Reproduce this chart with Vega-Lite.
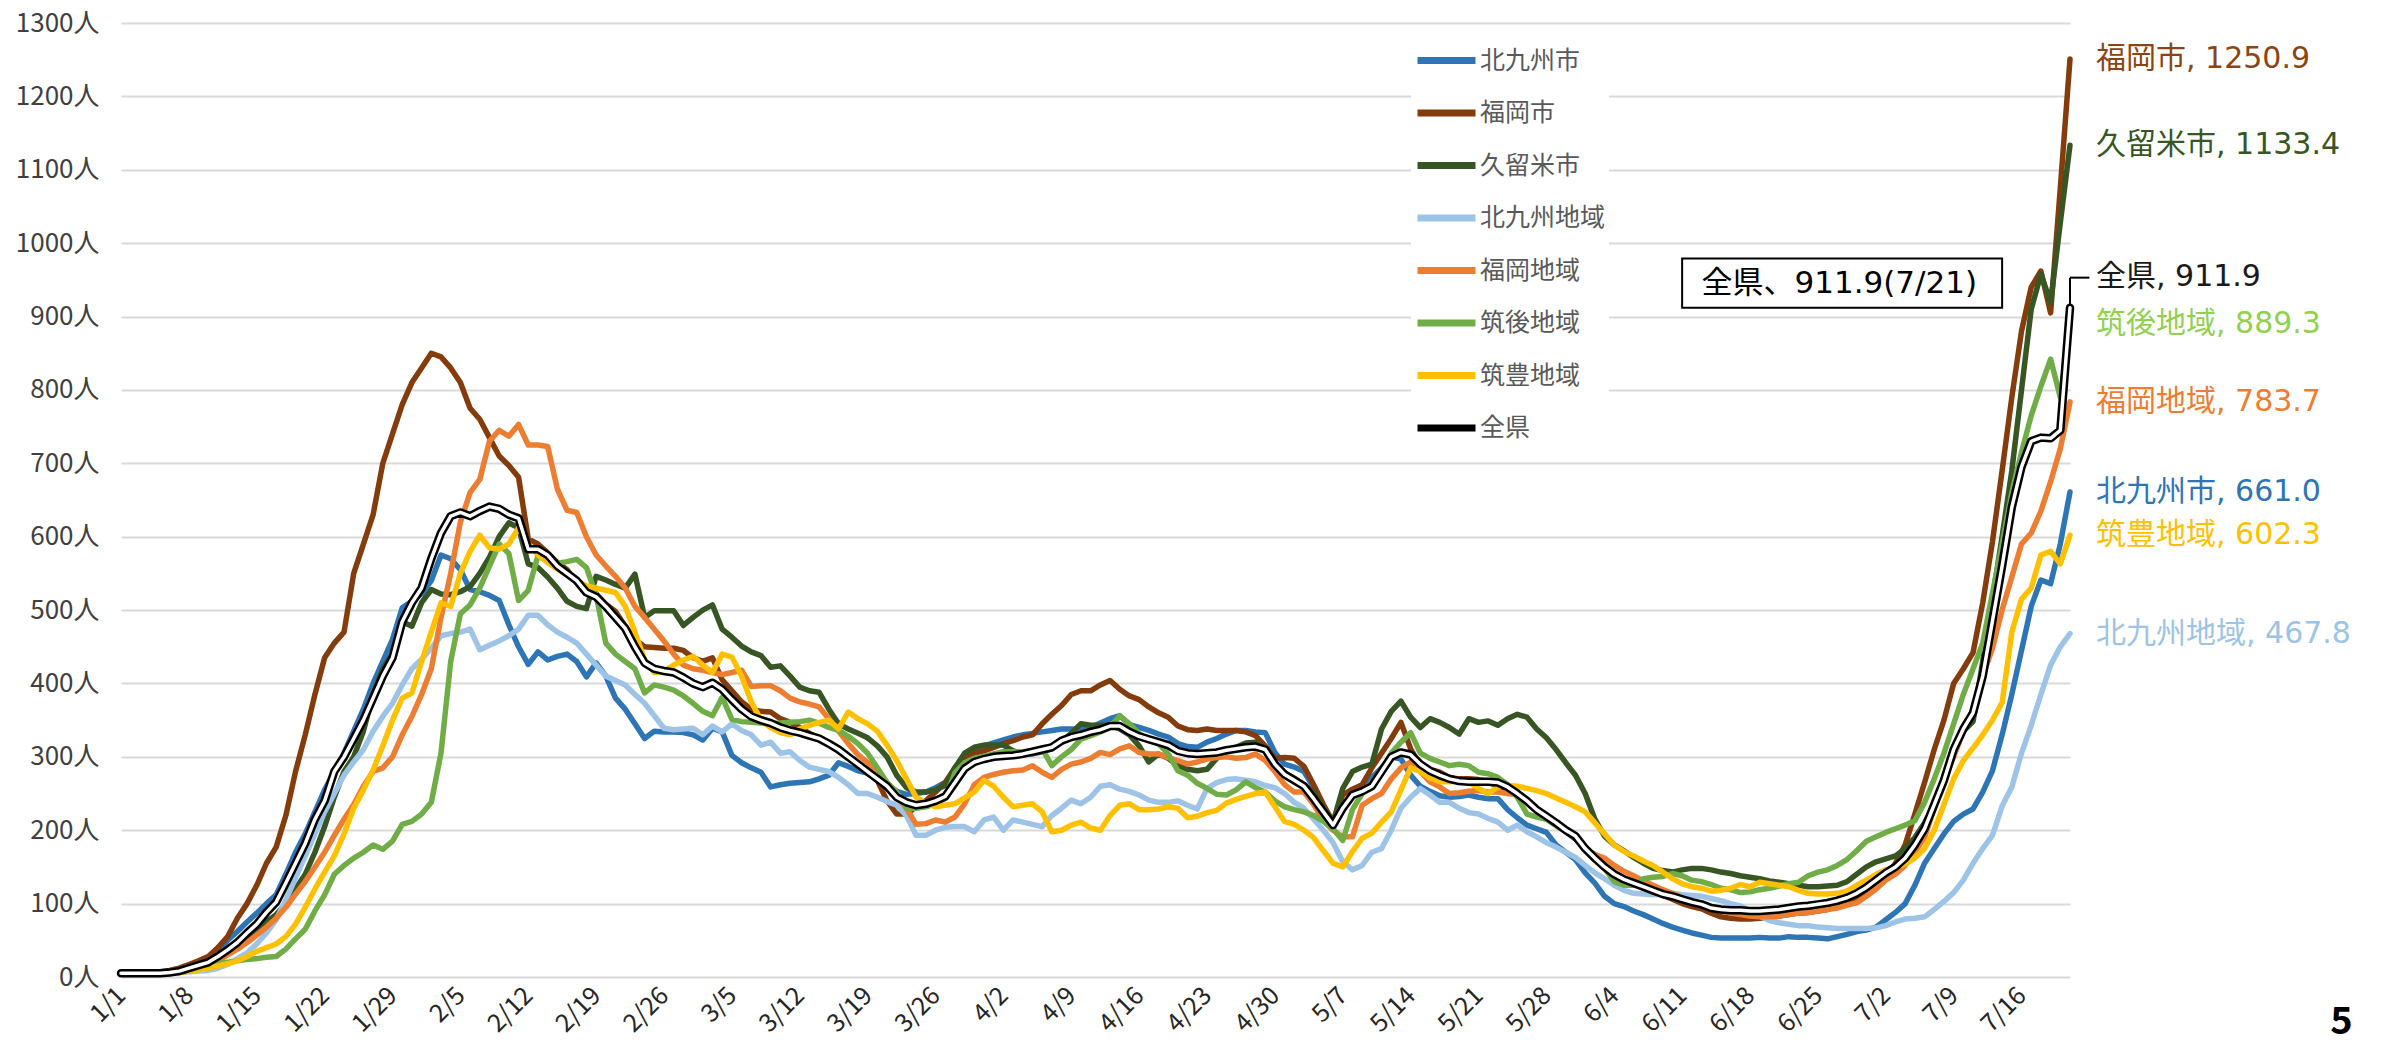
{
"$schema":"https://vega.github.io/schema/vega-lite/v6.json",
"width":1949,"height":954,
"autosize":{"type":"none"},
"padding":{"left":121,"top":23,"right":320,"bottom":68},
"background":"#FFFFFF",
"config":{"view":{"stroke":null},"font":"Noto Sans CJK JP"},
"datasets":{
"daily":[
{"date":"2022-01-01","北九州市":5,"福岡市":5,"久留米市":5,"北九州地域":4,"福岡地域":5,"筑後地域":4,"筑豊地域":4,"全県":5},
{"date":"2022-01-02","北九州市":5,"福岡市":5,"久留米市":5,"北九州地域":4,"福岡地域":5,"筑後地域":4,"筑豊地域":4,"全県":5},
{"date":"2022-01-03","北九州市":5,"福岡市":5,"久留米市":5,"北九州地域":4,"福岡地域":5,"筑後地域":4,"筑豊地域":4,"全県":5},
{"date":"2022-01-04","北九州市":5,"福岡市":6,"久留米市":5,"北九州地域":4,"福岡地域":5,"筑後地域":4,"筑豊地域":4,"全県":5},
{"date":"2022-01-05","北九州市":5,"福岡市":7,"久留米市":5,"北九州地域":4,"福岡地域":5,"筑後地域":4,"筑豊地域":4,"全県":5},
{"date":"2022-01-06","北九州市":6,"福岡市":9,"久留米市":6,"北九州地域":5,"福岡地域":6,"筑後地域":5,"筑豊地域":5,"全県":6},
{"date":"2022-01-07","北九州市":8,"福岡市":12,"久留米市":8,"北九州地域":6,"福岡地域":8,"筑後地域":6,"筑豊地域":6,"全県":8},
{"date":"2022-01-08","北九州市":12,"福岡市":17,"久留米市":12,"北九州地域":7,"福岡地域":10,"筑後地域":8,"筑豊地域":8,"全県":12},
{"date":"2022-01-09","北九州市":17,"福岡市":22,"久留米市":16,"北九州地域":8,"福岡地域":13,"筑後地域":11,"筑豊地域":10,"全県":16},
{"date":"2022-01-10","北九州市":22,"福岡市":28,"久留米市":20,"北九州地域":9,"福岡地域":16,"筑後地域":16,"筑豊地域":12,"全県":20},
{"date":"2022-01-11","北九州市":35,"福岡市":40,"久留米市":28,"北九州地域":12,"福岡地域":22,"筑後地域":18,"筑豊地域":15,"全県":28},
{"date":"2022-01-12","北九州市":50,"福岡市":55,"久留米市":35,"北九州地域":17,"福岡地域":30,"筑後地域":20,"筑豊地域":18,"全県":37},
{"date":"2022-01-13","北九州市":62,"福岡市":80,"久留米市":45,"北九州地域":25,"福岡地域":38,"筑後地域":22,"筑豊地域":22,"全県":47},
{"date":"2022-01-14","北九州市":75,"福岡市":100,"久留米市":55,"北九州地域":33,"福岡地域":47,"筑後地域":24,"筑豊地域":28,"全県":60},
{"date":"2022-01-15","北九州市":87,"福岡市":125,"久留米市":65,"北九州地域":45,"福岡地域":57,"筑後地域":25,"筑豊地域":35,"全県":72},
{"date":"2022-01-16","北九州市":100,"福岡市":155,"久留米市":75,"北九州地域":60,"福岡地域":68,"筑後地域":27,"筑豊地域":40,"全県":88},
{"date":"2022-01-17","北九州市":112,"福岡市":177,"久留米市":85,"北九州地域":78,"福岡地域":80,"筑後地域":28,"筑豊地域":45,"全県":102},
{"date":"2022-01-18","北九州市":140,"福岡市":220,"久留米市":100,"北九州地域":105,"福岡地域":95,"筑後地域":38,"筑豊地域":55,"全県":128},
{"date":"2022-01-19","北九州市":170,"福岡市":280,"久留米市":120,"北九州地域":135,"福岡地域":113,"筑後地域":52,"筑豊地域":72,"全県":155},
{"date":"2022-01-20","北九州市":195,"福岡市":330,"久留米市":140,"北九州地域":165,"福岡地域":130,"筑後地域":65,"筑豊地域":95,"全県":182},
{"date":"2022-01-21","北九州市":225,"福岡市":385,"久留米市":170,"北九州地域":195,"福岡地域":150,"筑後地域":90,"筑豊地域":120,"全県":215},
{"date":"2022-01-22","北九州市":255,"福岡市":435,"久留米市":205,"北九州地域":225,"福岡地域":170,"筑後地域":112,"筑豊地域":143,"全県":240},
{"date":"2022-01-23","北九州市":280,"福岡市":455,"久留米市":245,"北九州地域":250,"福岡地域":193,"筑後地域":140,"筑豊地域":165,"全県":280},
{"date":"2022-01-24","北九州市":305,"福岡市":470,"久留米市":280,"北九州地域":275,"福岡地域":215,"筑後地域":152,"筑豊地域":195,"全県":300},
{"date":"2022-01-25","北九州市":335,"福岡市":550,"久留米市":300,"北九州地域":293,"福岡地域":235,"筑後地域":162,"筑豊地域":230,"全県":325},
{"date":"2022-01-26","北九州市":365,"福岡市":590,"久留米市":335,"北九州地域":310,"福岡地域":260,"筑後地域":170,"筑豊地域":255,"全県":350},
{"date":"2022-01-27","北九州市":400,"福岡市":630,"久留米市":385,"北九州地域":335,"福岡地域":280,"筑後地域":180,"筑豊地域":282,"全県":380},
{"date":"2022-01-28","北九州市":430,"福岡市":700,"久留米市":420,"北九州地域":355,"福岡地域":285,"筑後地域":174,"筑豊地域":315,"全県":410},
{"date":"2022-01-29","北九州市":460,"福岡市":740,"久留米市":440,"北九州地域":373,"福岡地域":300,"筑後地域":185,"筑豊地域":350,"全県":435},
{"date":"2022-01-30","北九州市":503,"福岡市":780,"久留米市":484,"北九州地域":398,"福岡地域":330,"筑後地域":208,"筑豊地域":380,"全県":484},
{"date":"2022-01-31","北九州市":512,"福岡市":810,"久留米市":478,"北九州地域":420,"福岡地域":355,"筑後地域":212,"筑豊地域":387,"全県":510},
{"date":"2022-02-01","北九州市":522,"福岡市":830,"久留米市":510,"北九州地域":433,"福岡地域":385,"筑後地域":222,"筑豊地域":430,"全県":530},
{"date":"2022-02-02","北九州市":540,"福岡市":850,"久留米市":528,"北九州地域":448,"福岡地域":420,"筑後地域":238,"筑豊地域":470,"全県":570},
{"date":"2022-02-03","北九州市":575,"福岡市":845,"久留米市":522,"北九州地域":465,"福岡地域":490,"筑後地域":305,"筑豊地域":510,"全県":605},
{"date":"2022-02-04","北九州市":570,"福岡市":830,"久留米市":521,"北九州地域":468,"福岡地域":550,"筑後地域":430,"筑豊地域":505,"全県":628},
{"date":"2022-02-05","北九州市":555,"福岡市":810,"久留米市":525,"北九州地域":470,"福岡地域":620,"筑後地域":495,"筑豊地域":550,"全県":633},
{"date":"2022-02-06","北九州市":528,"福岡市":775,"久留米市":532,"北九州地域":474,"福岡地域":660,"筑後地域":507,"筑豊地域":580,"全県":628},
{"date":"2022-02-07","北九州市":525,"福岡市":760,"久留米市":550,"北九州地域":446,"福岡地域":678,"筑後地域":530,"筑豊地域":602,"全県":635},
{"date":"2022-02-08","北九州市":520,"福岡市":735,"久留米市":572,"北九州地域":452,"福岡地域":730,"筑後地域":560,"筑豊地域":585,"全県":641},
{"date":"2022-02-09","北九州市":513,"福岡市":710,"久留米市":600,"北九州地域":458,"福岡地域":745,"筑後地域":590,"筑豊地域":583,"全県":638},
{"date":"2022-02-10","北九州市":480,"福岡市":697,"久留米市":619,"北九州地域":465,"福岡地域":737,"筑後地域":577,"筑豊地域":590,"全県":630},
{"date":"2022-02-11","北九州市":450,"福岡市":681,"久留米市":612,"北九州地域":474,"福岡地域":753,"筑後地域":513,"筑豊地域":612,"全県":625},
{"date":"2022-02-12","北九州市":426,"福岡市":597,"久留米市":563,"北九州地域":493,"福岡地域":725,"筑後地域":527,"筑豊地域":590,"全県":583},
{"date":"2022-02-13","北九州市":443,"福岡市":590,"久留米市":558,"北九州地域":493,"福岡地域":725,"筑後地域":574,"筑豊地域":575,"全県":583},
{"date":"2022-02-14","北九州市":432,"福岡市":578,"久留米市":545,"北九州地域":480,"福岡地域":723,"筑後地域":566,"筑豊地域":565,"全県":575},
{"date":"2022-02-15","北九州市":437,"福岡市":565,"久留米市":530,"北九州地域":470,"福岡地域":665,"筑後地域":564,"筑豊地域":556,"全県":560},
{"date":"2022-02-16","北九州市":440,"福岡市":555,"久留米市":512,"北九州地域":463,"福岡地域":636,"筑後地域":566,"筑豊地域":548,"全県":550},
{"date":"2022-02-17","北九州市":430,"福岡市":538,"久留米市":505,"北九州地域":455,"福岡地域":633,"筑後地域":569,"筑豊地域":540,"全県":540},
{"date":"2022-02-18","北九州市":409,"福岡市":530,"久留米市":502,"北九州地域":440,"福岡地域":600,"筑後地域":558,"筑豊地域":533,"全県":524},
{"date":"2022-02-19","北九州市":428,"福岡市":522,"久留米市":546,"北九州地域":425,"福岡地域":575,"筑後地域":520,"筑豊地域":530,"全県":518},
{"date":"2022-02-20","北九州市":410,"福岡市":508,"久留米市":541,"北九州地域":410,"福岡地域":560,"筑後地域":455,"筑豊地域":527,"全県":505},
{"date":"2022-02-21","北九州市":380,"福岡市":498,"久留米市":535,"北九州地域":404,"福岡地域":546,"筑後地域":440,"筑豊地域":524,"全県":490},
{"date":"2022-02-22","北九州市":365,"福岡市":478,"久留米市":530,"北九州地域":398,"福岡地域":530,"筑後地域":430,"筑豊地域":505,"全県":475},
{"date":"2022-02-23","北九州市":345,"福岡市":460,"久留米市":549,"北九州地域":385,"福岡地域":505,"筑後地域":420,"筑豊地域":470,"全県":450},
{"date":"2022-02-24","北九州市":325,"福岡市":450,"久留米市":490,"北九州地域":373,"福岡地域":490,"筑後地域":387,"筑豊地域":432,"全県":428},
{"date":"2022-02-25","北九州市":335,"福岡市":449,"久留米市":499,"北九州地域":356,"福岡地域":474,"筑後地域":398,"筑豊地域":415,"全県":420},
{"date":"2022-02-26","北九州市":334,"福岡市":448,"久留米市":499,"北九州地域":339,"福岡地域":458,"筑後地域":395,"筑豊地域":417,"全県":417},
{"date":"2022-02-27","北九州市":334,"福岡市":448,"久留米市":499,"北九州地域":337,"福岡地域":440,"筑後地域":391,"筑豊地域":425,"全県":415},
{"date":"2022-02-28","北九州市":333,"福岡市":445,"久留米市":479,"北九州地域":338,"福岡地域":425,"筑後地域":383,"筑豊地域":432,"全県":408},
{"date":"2022-03-01","北九州市":330,"福岡市":435,"久留米市":490,"北九州地域":339,"福岡地域":420,"筑後地域":373,"筑豊地域":437,"全県":400},
{"date":"2022-03-02","北九州市":323,"福岡市":430,"久留米市":500,"北九州地域":330,"福岡地域":418,"筑後地域":362,"筑豊地域":425,"全県":395},
{"date":"2022-03-03","北九州市":339,"福岡市":435,"久留米市":507,"北九州地域":342,"福岡地域":415,"筑後地域":356,"筑豊地域":415,"全県":401},
{"date":"2022-03-04","北九州市":334,"福岡市":405,"久留米市":474,"北九州地域":334,"福岡地域":412,"筑後地域":381,"筑豊地域":440,"全県":392},
{"date":"2022-03-05","北九州市":302,"福岡市":390,"久留米市":463,"北九州地域":345,"福岡地域":415,"筑後地域":351,"筑豊地域":436,"全県":378},
{"date":"2022-03-06","北九州市":292,"福岡市":375,"久留米市":451,"北九州地域":336,"福岡地域":418,"筑後地域":348,"筑豊地域":410,"全県":365},
{"date":"2022-03-07","北九州市":285,"福岡市":365,"久留米市":443,"北九州地域":330,"福岡地域":396,"筑後地域":347,"筑豊地域":375,"全県":355},
{"date":"2022-03-08","北九州市":279,"福岡市":362,"久留米市":438,"北九州地域":316,"福岡地域":397,"筑後地域":346,"筑豊地域":350,"全県":350},
{"date":"2022-03-09","北九州市":259,"福岡市":361,"久留米市":422,"北九州地域":320,"福岡地域":397,"筑後地域":345,"筑豊地域":340,"全県":346},
{"date":"2022-03-10","北九州市":262,"福岡市":352,"久留米市":424,"北九州地域":305,"福岡地域":390,"筑後地域":346,"筑豊地域":333,"全県":340},
{"date":"2022-03-11","北九州市":264,"福岡市":347,"久留米市":410,"北九州地域":307,"福岡地域":380,"筑後地域":347,"筑豊地域":330,"全県":336},
{"date":"2022-03-12","北九州市":265,"福岡市":340,"久留米市":395,"北九州地域":295,"福岡地域":375,"筑後地域":348,"筑豊地域":338,"全県":333},
{"date":"2022-03-13","北九州市":266,"福岡市":332,"久留米市":390,"北九州地域":286,"福岡地域":372,"筑後地域":350,"筑豊地域":343,"全県":329},
{"date":"2022-03-14","北九州市":270,"福岡市":325,"久留米市":388,"北九州地域":283,"福岡地域":368,"筑後地域":346,"筑豊地域":347,"全県":325},
{"date":"2022-03-15","北九州市":275,"福岡市":318,"久留米市":365,"北九州地域":280,"福岡地域":352,"筑後地域":340,"筑豊地域":350,"全県":318},
{"date":"2022-03-16","北九州市":292,"福岡市":310,"久留米市":345,"北九州地域":272,"福岡地域":335,"筑後地域":336,"筑豊地域":338,"全県":310},
{"date":"2022-03-17","北九州市":287,"福岡市":300,"久留米市":338,"北九州地域":262,"福岡地域":318,"筑後地域":328,"筑豊地域":361,"全県":300},
{"date":"2022-03-18","北九州市":281,"福岡市":290,"久留米市":332,"北九州地域":250,"福岡地域":303,"筑後地域":318,"筑豊地域":352,"全県":290},
{"date":"2022-03-19","北九州市":278,"福岡市":278,"久留米市":326,"北九州地域":250,"福岡地域":292,"筑後地域":305,"筑豊地域":345,"全県":280},
{"date":"2022-03-20","北九州市":271,"福岡市":268,"久留米市":315,"北九州地域":245,"福岡地域":278,"筑後地域":285,"筑豊地域":335,"全県":270},
{"date":"2022-03-21","北九州市":262,"福岡市":240,"久留米市":300,"北九州地域":239,"福岡地域":262,"筑後地域":265,"筑豊地域":316,"全県":260},
{"date":"2022-03-22","北九州市":253,"福岡市":222,"久留米市":275,"北九州地域":234,"福岡地域":245,"筑後地域":252,"筑豊地域":295,"全県":245},
{"date":"2022-03-23","北九州市":249,"福岡市":222,"久留米市":258,"北九州地域":220,"福岡地域":230,"筑後地域":230,"筑豊地域":270,"全県":238},
{"date":"2022-03-24","北九州市":250,"福岡市":232,"久留米市":252,"北九州地域":193,"福岡地域":208,"筑後地域":230,"筑豊地域":245,"全県":234},
{"date":"2022-03-25","北九州市":252,"福岡市":240,"久留米市":252,"北九州地域":193,"福岡地域":209,"筑後地域":232,"筑豊地域":237,"全県":236},
{"date":"2022-03-26","北九州市":258,"福岡市":252,"久留米市":255,"北九州地域":200,"福岡地域":214,"筑後地域":236,"筑豊地域":232,"全県":240},
{"date":"2022-03-27","北九州市":265,"福岡市":265,"久留米市":261,"北九州地域":204,"福岡地域":211,"筑後地域":243,"筑豊地域":234,"全県":246},
{"date":"2022-03-28","北九州市":278,"福岡市":285,"久留米市":285,"北九州地域":205,"福岡地域":218,"筑後地域":278,"筑豊地域":236,"全県":265},
{"date":"2022-03-29","北九州市":290,"福岡市":300,"久留米市":305,"北九州地域":205,"福岡地域":236,"筑後地域":292,"筑豊地域":244,"全県":284},
{"date":"2022-03-30","北九州市":310,"福岡市":305,"久留米市":313,"北九州地域":198,"福岡地域":262,"筑後地域":298,"筑豊地域":252,"全県":293},
{"date":"2022-03-31","北九州市":315,"福岡市":308,"久留米市":316,"北九州地域":214,"福岡地域":272,"筑後地域":301,"筑豊地域":268,"全県":297},
{"date":"2022-04-01","北九州市":319,"福岡市":313,"久留米市":316,"北九州地域":218,"福岡地域":276,"筑後地域":304,"筑豊地域":260,"全県":300},
{"date":"2022-04-02","北九州市":323,"福岡市":318,"久留米市":316,"北九州地域":200,"福岡地域":279,"筑後地域":307,"筑豊地域":245,"全県":301},
{"date":"2022-04-03","北九州市":327,"福岡市":322,"久留米市":308,"北九州地域":214,"福岡地域":281,"筑後地域":307,"筑豊地域":232,"全県":302},
{"date":"2022-04-04","北九州市":330,"福岡市":327,"久留米市":305,"北九州地域":211,"福岡地域":282,"筑後地域":307,"筑豊地域":234,"全県":304},
{"date":"2022-04-05","北九州市":332,"福岡市":330,"久留米市":304,"北九州地域":208,"福岡地域":288,"筑後地域":308,"筑豊地域":236,"全県":307},
{"date":"2022-04-06","北九州市":334,"福岡市":345,"久留米市":307,"北九州地域":205,"福岡地域":279,"筑後地域":311,"筑豊地域":225,"全県":310},
{"date":"2022-04-07","北九州市":336,"福岡市":358,"久留米市":311,"北九州地域":220,"福岡地域":272,"筑後地域":288,"筑豊地域":198,"全県":313},
{"date":"2022-04-08","北九州市":338,"福岡市":370,"久留米市":320,"北九州地域":230,"福岡地域":283,"筑後地域":300,"筑豊地域":200,"全県":322},
{"date":"2022-04-09","北九州市":338,"福岡市":385,"久留米市":332,"北九州地域":241,"福岡地域":290,"筑後地域":310,"筑豊地域":207,"全県":327},
{"date":"2022-04-10","北九州市":338,"福岡市":390,"久留米市":345,"北九州地域":236,"福岡地域":293,"筑後地域":324,"筑豊地域":211,"全県":330},
{"date":"2022-04-11","北九州市":340,"福岡市":390,"久留米市":343,"北九州地域":245,"福岡地域":298,"筑後地域":329,"筑豊地域":203,"全県":334},
{"date":"2022-04-12","北九州市":346,"福岡市":398,"久留米市":343,"北九州地域":260,"福岡地域":306,"筑後地域":334,"筑豊地域":200,"全県":337},
{"date":"2022-04-13","北九州市":352,"福岡市":404,"久留米市":343,"北九州地域":262,"福岡地域":303,"筑後地域":340,"筑豊地域":220,"全県":342},
{"date":"2022-04-14","北九州市":356,"福岡市":392,"久留米市":338,"北九州地域":256,"福岡地域":311,"筑後地域":356,"筑豊地域":234,"全県":342},
{"date":"2022-04-15","北九州市":344,"福岡市":383,"久留米市":330,"北九州地域":253,"福岡地域":315,"筑後地域":345,"筑豊地域":236,"全県":334},
{"date":"2022-04-16","北九州市":340,"福岡市":378,"久留米市":315,"北九州地域":248,"福岡地域":306,"筑後地域":332,"筑豊地域":228,"全県":328},
{"date":"2022-04-17","北九州市":336,"福岡市":368,"久留米市":293,"北九州地域":241,"福岡地域":304,"筑後地域":322,"筑豊地域":228,"全県":324},
{"date":"2022-04-18","北九州市":331,"福岡市":360,"久留米市":304,"北九州地域":238,"福岡地域":304,"筑後地域":318,"筑豊地域":229,"全県":320},
{"date":"2022-04-19","北九州市":327,"福岡市":354,"久留米市":298,"北九州地域":238,"福岡地域":299,"筑後地域":304,"筑豊地域":232,"全県":316},
{"date":"2022-04-20","北九州市":318,"福岡市":342,"久留米市":288,"北九州地域":240,"福岡地域":295,"筑後地域":281,"筑豊地域":230,"全県":308},
{"date":"2022-04-21","北九州市":314,"福岡市":337,"久留米市":283,"北九州地域":234,"福岡地域":290,"筑後地域":275,"筑豊地域":217,"全県":305},
{"date":"2022-04-22","北九州市":313,"福岡市":336,"久留米市":281,"北九州地域":229,"福岡地域":293,"筑後地域":264,"筑豊地域":219,"全県":304},
{"date":"2022-04-23","北九州市":320,"福岡市":338,"久留米市":283,"北九州地域":257,"福岡地域":297,"筑後地域":257,"筑豊地域":224,"全県":305},
{"date":"2022-04-24","北九州市":325,"福岡市":336,"久留米市":298,"北九州地域":265,"福岡地域":299,"筑後地域":249,"筑豊地域":227,"全県":306},
{"date":"2022-04-25","北九州市":331,"福岡市":336,"久留米市":307,"北九州地域":269,"福岡地域":300,"筑後地域":248,"筑豊地域":237,"全県":309},
{"date":"2022-04-26","北九州市":336,"福岡市":336,"久留米市":313,"北九州地域":270,"福岡地域":298,"筑後地域":255,"筑豊地域":242,"全県":311},
{"date":"2022-04-27","北九州市":336,"福岡市":334,"久留米市":319,"北九州地域":268,"福岡地域":299,"筑後地域":266,"筑豊地域":246,"全県":313},
{"date":"2022-04-28","北九州市":334,"福岡市":329,"久留米市":320,"北九州地域":266,"福岡地域":304,"筑後地域":258,"筑豊地域":250,"全県":314},
{"date":"2022-04-29","北九州市":333,"福岡市":315,"久留米市":311,"北九州地域":261,"福岡地域":295,"筑後地域":252,"筑豊地域":252,"全県":310},
{"date":"2022-04-30","北九州市":306,"福岡市":298,"久留米市":288,"北九州地域":258,"福岡地域":280,"筑後地域":240,"筑豊地域":232,"全県":290},
{"date":"2022-05-01","北九州市":290,"福岡市":299,"久留米市":278,"北九州地域":250,"福岡地域":262,"筑後地域":232,"筑豊地域":212,"全県":276},
{"date":"2022-05-02","北九州市":286,"福岡市":298,"久留米市":271,"北九州地域":238,"福岡地域":252,"筑後地域":228,"筑豊地域":208,"全県":268},
{"date":"2022-05-03","北九州市":280,"福岡市":287,"久留米市":262,"北九州地域":230,"福岡地域":252,"筑後地域":225,"筑豊地域":200,"全県":260},
{"date":"2022-05-04","北九州市":258,"福岡市":262,"久留米市":252,"北九州地域":215,"福岡地域":235,"筑後地域":220,"筑豊地域":190,"全県":243},
{"date":"2022-05-05","北九州市":230,"福岡市":235,"久留米市":230,"北九州地域":200,"福岡地域":213,"筑後地域":212,"筑豊地域":172,"全県":225},
{"date":"2022-05-06","北九州市":210,"福岡市":211,"久留米市":211,"北九州地域":183,"福岡地域":200,"筑後地域":202,"筑豊地域":155,"全県":207},
{"date":"2022-05-07","北九州市":232,"福岡市":248,"久留米市":257,"北九州地域":157,"福岡地域":191,"筑後地域":186,"筑豊地域":150,"全県":230},
{"date":"2022-05-08","北九州市":248,"福岡市":256,"久留米市":280,"北九州地域":146,"福岡地域":191,"筑後地域":228,"筑豊地域":171,"全県":248},
{"date":"2022-05-09","北九州市":260,"福岡市":262,"久留米市":286,"北九州地域":152,"福岡地域":234,"筑後地域":250,"筑豊地域":189,"全県":253},
{"date":"2022-05-10","北九州市":272,"福岡市":285,"久留米市":290,"北九州地域":170,"福岡地域":243,"筑後地域":265,"筑豊地域":196,"全県":260},
{"date":"2022-05-11","北九州市":285,"福岡市":305,"久留米市":338,"北九州地域":175,"福岡地域":250,"筑後地域":280,"筑豊地域":211,"全県":280},
{"date":"2022-05-12","北九州市":300,"福岡市":325,"久留米市":362,"北九州地域":200,"福岡地域":270,"筑後地域":305,"筑豊地域":225,"全県":300},
{"date":"2022-05-13","北九州市":297,"福岡市":347,"久留米市":376,"北九州地域":230,"福岡地域":285,"筑後地域":320,"筑豊地域":255,"全県":306},
{"date":"2022-05-14","北九州市":275,"福岡市":311,"久留米市":354,"北九州地域":245,"福岡地域":293,"筑後地域":333,"筑豊地域":285,"全県":303},
{"date":"2022-05-15","北九州市":260,"福岡市":288,"久留米市":340,"北九州地域":257,"福岡地域":280,"筑後地域":305,"筑豊地域":280,"全県":290},
{"date":"2022-05-16","北九州市":253,"福岡市":283,"久留米市":352,"北九州地域":248,"福岡地域":266,"筑後地域":298,"筑豊地域":271,"全県":281},
{"date":"2022-05-17","北九州市":247,"福岡市":279,"久留米市":347,"北九州地域":238,"福岡地域":259,"筑後地域":293,"筑豊地域":266,"全県":275},
{"date":"2022-05-18","北九州市":245,"福岡市":272,"久留米市":340,"北九州地域":238,"福岡地域":250,"筑後地域":288,"筑豊地域":266,"全県":270},
{"date":"2022-05-19","北九州市":246,"福岡市":270,"久留米市":331,"北九州地域":230,"福岡地域":251,"筑後地域":290,"筑豊地域":267,"全県":267},
{"date":"2022-05-20","北九州市":248,"福岡市":270,"久留米市":352,"北九州地域":224,"福岡地域":253,"筑後地域":288,"筑豊地域":266,"全県":266},
{"date":"2022-05-21","北九州市":245,"福岡市":269,"久留米市":347,"北九州地域":222,"福岡地域":254,"筑後地域":279,"筑豊地域":257,"全県":266},
{"date":"2022-05-22","北九州市":243,"福岡市":266,"久留米市":349,"北九州地域":216,"福岡地域":252,"筑後地域":277,"筑豊地域":250,"全県":266},
{"date":"2022-05-23","北九州市":243,"福岡市":260,"久留米市":343,"北九州地域":211,"福岡地域":252,"筑後地域":272,"筑豊地域":259,"全県":265},
{"date":"2022-05-24","北九州市":228,"福岡市":255,"久留米市":352,"北九州地域":200,"福岡地域":250,"筑後地域":262,"筑豊地域":261,"全県":259},
{"date":"2022-05-25","北九州市":217,"福岡市":249,"久留米市":358,"北九州地域":207,"福岡地域":248,"筑後地域":245,"筑豊地域":260,"全県":250},
{"date":"2022-05-26","北九州市":207,"福岡市":237,"久留米市":354,"北九州地域":198,"福岡地域":238,"筑後地域":222,"筑豊地域":257,"全県":240},
{"date":"2022-05-27","北九州市":202,"福岡市":226,"久留米市":338,"北九州地域":191,"福岡地域":229,"筑後地域":218,"筑豊地域":254,"全県":228},
{"date":"2022-05-28","北九州市":197,"福岡市":217,"久留米市":326,"北九州地域":183,"福岡地域":218,"筑後地域":215,"筑豊地域":250,"全県":219},
{"date":"2022-05-29","北九州市":180,"福岡市":209,"久留米市":310,"北九州地域":177,"福岡地域":211,"筑後地域":206,"筑豊地域":244,"全県":210},
{"date":"2022-05-30","北九州市":170,"福岡市":198,"久留米市":292,"北九州地域":170,"福岡地域":200,"筑後地域":198,"筑豊地域":238,"全県":200},
{"date":"2022-05-31","北九州市":160,"福岡市":188,"久留米市":275,"北九州地域":163,"福岡地域":190,"筑後地域":192,"筑豊地域":232,"全県":192},
{"date":"2022-06-01","北九州市":142,"福岡市":176,"久留米市":250,"北九州地域":152,"福岡地域":175,"筑後地域":175,"筑豊地域":225,"全県":175},
{"date":"2022-06-02","北九州市":128,"福岡市":163,"久留米市":215,"北九州地域":142,"福岡地域":167,"筑後地域":160,"筑豊地域":210,"全県":162},
{"date":"2022-06-03","北九州市":110,"福岡市":152,"久留米市":192,"北九州地域":134,"福岡地域":162,"筑後地域":148,"筑豊地域":195,"全県":150},
{"date":"2022-06-04","北九州市":100,"福岡市":142,"久留米市":180,"北九州地域":125,"福岡地域":152,"筑後地域":130,"筑豊地域":180,"全県":140},
{"date":"2022-06-05","北九州市":96,"福岡市":135,"久留米市":172,"北九州地域":118,"福岡地域":144,"筑後地域":125,"筑豊地域":171,"全県":133},
{"date":"2022-06-06","北九州市":90,"福岡市":127,"久留米市":163,"北九州地域":114,"福岡地域":138,"筑後地域":125,"筑豊地域":165,"全県":128},
{"date":"2022-06-07","北九州市":85,"福岡市":121,"久留米市":155,"北九州地域":113,"福岡地域":131,"筑後地域":134,"筑豊地域":158,"全県":123},
{"date":"2022-06-08","北九州市":79,"福岡市":116,"久留米市":148,"北九州地域":112,"福岡地域":125,"筑後地域":136,"筑豊地域":152,"全県":118},
{"date":"2022-06-09","北九州市":73,"福岡市":111,"久留米市":145,"北九州地域":113,"福岡地域":119,"筑後地域":137,"筑豊地域":143,"全県":113},
{"date":"2022-06-10","北九州市":68,"福岡市":106,"久留米市":143,"北九州地域":114,"福岡地域":114,"筑後地域":141,"筑豊地域":134,"全県":110},
{"date":"2022-06-11","北九州市":64,"福岡市":100,"久留米市":146,"北九州地域":112,"福岡地域":108,"筑後地域":138,"筑豊地域":127,"全県":106},
{"date":"2022-06-12","北九州市":60,"福岡市":96,"久留米市":148,"北九州地域":111,"福岡地域":103,"筑後地域":132,"筑豊地域":123,"全県":102},
{"date":"2022-06-13","北九州市":57,"福岡市":93,"久留米市":148,"北九州地域":110,"福岡地域":99,"筑後地域":130,"筑豊地域":121,"全県":99},
{"date":"2022-06-14","北九州市":54,"福岡市":87,"久留米市":146,"北九州地域":107,"福岡地域":93,"筑後地域":126,"筑豊地域":117,"全県":94},
{"date":"2022-06-15","北九州市":53,"福岡市":82,"久留米市":143,"北九州地域":104,"福岡地域":90,"筑後地域":121,"筑豊地域":118,"全県":92},
{"date":"2022-06-16","北九州市":53,"福岡市":80,"久留米市":141,"北九州地域":100,"福岡地域":87,"筑後地域":119,"筑豊地域":121,"全県":91},
{"date":"2022-06-17","北九州市":53,"福岡市":79,"久留米市":138,"北九州地域":97,"福岡地域":85,"筑後地域":115,"筑豊地域":126,"全県":91},
{"date":"2022-06-18","北九州市":53,"福岡市":79,"久留米市":136,"北九州地域":90,"福岡地域":83,"筑後地域":116,"筑豊地域":123,"全県":90},
{"date":"2022-06-19","北九州市":54,"福岡市":80,"久留米市":134,"北九州地域":83,"福岡地域":82,"筑後地域":119,"筑豊地域":129,"全県":90},
{"date":"2022-06-20","北九州市":53,"福岡市":81,"久留米市":131,"北九州地域":77,"福岡地域":82,"筑後地域":121,"筑豊地域":127,"全県":91},
{"date":"2022-06-21","北九州市":53,"福岡市":83,"久留米市":129,"北九州地域":74,"福岡地域":83,"筑後地域":124,"筑豊地域":125,"全県":92},
{"date":"2022-06-22","北九州市":55,"福岡市":85,"久留米市":127,"北九州地域":72,"福岡地域":85,"筑後地域":127,"筑豊地域":123,"全県":94},
{"date":"2022-06-23","北九州市":54,"福岡市":87,"久留米市":125,"北九州地域":70,"福岡地域":87,"筑後地域":129,"筑豊地域":118,"全県":96},
{"date":"2022-06-24","北九州市":54,"福岡市":88,"久留米市":123,"北九州地域":70,"福岡地域":88,"筑後地域":138,"筑豊地域":114,"全県":97},
{"date":"2022-06-25","北九州市":53,"福岡市":90,"久留米市":123,"北九州地域":68,"福岡地域":90,"筑後地域":143,"筑豊地域":113,"全県":99},
{"date":"2022-06-26","北九州市":52,"福岡市":92,"久留米市":124,"北九州地域":67,"福岡地域":92,"筑後地域":146,"筑豊地域":113,"全県":101},
{"date":"2022-06-27","北九州市":55,"福岡市":96,"久留米市":125,"北九州地域":66,"福岡地域":94,"筑後地域":152,"筑豊地域":114,"全県":104},
{"date":"2022-06-28","北九州市":58,"福岡市":100,"久留米市":130,"北九州地域":66,"福岡地域":98,"筑後地域":160,"筑豊地域":117,"全県":108},
{"date":"2022-06-29","北九州市":62,"福岡市":106,"久留米市":140,"北九州地域":66,"福岡地域":101,"筑後地域":172,"筑豊地域":125,"全県":114},
{"date":"2022-06-30","北九州市":64,"福岡市":115,"久留米市":150,"北九州地域":66,"福岡地域":110,"筑後地域":185,"筑豊地域":132,"全県":122},
{"date":"2022-07-01","北九州市":68,"福岡市":123,"久留米市":157,"北九州地域":67,"福岡地域":120,"筑後地域":191,"筑豊地域":140,"全県":132},
{"date":"2022-07-02","北九州市":78,"福岡市":135,"久留米市":161,"北九州地域":70,"福岡地域":132,"筑後地域":197,"筑豊地域":146,"全県":142},
{"date":"2022-07-03","北九州市":88,"福岡市":155,"久留米市":165,"北九州地域":75,"福岡地域":140,"筑後地域":202,"筑豊地域":150,"全県":150},
{"date":"2022-07-04","北九州市":100,"福岡市":180,"久留米市":175,"北九州地域":79,"福岡地域":152,"筑後地域":207,"筑豊地域":154,"全県":162},
{"date":"2022-07-05","北九州市":125,"福岡市":222,"久留米市":190,"北九州地域":80,"福岡地域":170,"筑後地域":213,"筑豊地域":162,"全県":180},
{"date":"2022-07-06","北九州市":155,"福岡市":265,"久留米市":210,"北九州地域":82,"福岡地域":190,"筑後地域":238,"筑豊地域":175,"全県":202},
{"date":"2022-07-07","北九州市":175,"福岡市":310,"久留米市":235,"北九州地域":92,"福岡地域":230,"筑後地域":270,"筑豊地域":200,"全県":235},
{"date":"2022-07-08","北九州市":195,"福岡市":350,"久留米市":265,"北九州地域":103,"福岡地域":268,"筑後地域":305,"筑豊地域":235,"全県":268},
{"date":"2022-07-09","北九州市":212,"福岡市":400,"久留米市":310,"北九州地域":115,"福岡地域":300,"筑後地域":345,"筑豊地域":270,"全県":310},
{"date":"2022-07-10","北九州市":222,"福岡市":420,"久留米市":335,"北九州地域":132,"福岡地域":335,"筑後地域":385,"筑豊地域":295,"全県":338},
{"date":"2022-07-11","北九州市":229,"福岡市":442,"久留米市":348,"北九州地域":155,"福岡地域":365,"筑後地域":420,"筑豊地域":312,"全県":360},
{"date":"2022-07-12","北九州市":252,"福岡市":510,"久留米市":430,"北九州地域":175,"福岡地域":410,"筑後地域":455,"筑豊地域":330,"全県":410},
{"date":"2022-07-13","北九州市":281,"福岡市":593,"久留米市":515,"北九州地域":193,"福岡地域":448,"筑後地域":523,"筑豊地域":350,"全県":485},
{"date":"2022-07-14","北九州市":330,"福岡市":690,"久留米市":600,"北九州地域":233,"福岡地域":500,"筑後地域":590,"筑豊地域":374,"全県":560},
{"date":"2022-07-15","北九州市":385,"福岡市":790,"久留米市":690,"北九州地域":259,"福岡地域":545,"筑後地域":660,"筑豊地域":470,"全県":640},
{"date":"2022-07-16","北九州市":445,"福岡市":880,"久留米市":800,"北九州地域":305,"福岡地域":590,"筑後地域":715,"筑豊地域":515,"全県":695},
{"date":"2022-07-17","北九州市":505,"福岡市":940,"久留米市":910,"北九州地域":343,"福岡地域":605,"筑後地域":765,"筑豊地域":530,"全県":730},
{"date":"2022-07-18","北九州市":541,"福岡市":962,"久留米市":958,"北九州地域":385,"福岡地域":635,"筑後地域":805,"筑豊地域":575,"全県":735},
{"date":"2022-07-19","北九州市":536,"福岡市":905,"久留米市":919,"北九州地域":425,"福岡地域":675,"筑後地域":842,"筑豊地域":580,"全県":734},
{"date":"2022-07-20","北九州市":590,"福岡市":1075,"久留米市":1028,"北九州地域":450,"福岡地域":720,"筑後地域":790,"筑豊地域":563,"全県":745},
{"date":"2022-07-21","北九州市":661.0,"福岡市":1250.9,"久留米市":1133.4,"北九州地域":467.8,"福岡地域":783.7,"筑後地域":889.3,"筑豊地域":602.3,"全県":911.9}
],
"labels":[
{"date":"2022-07-21","series":"福岡市","value":1250.9,"label":"福岡市, 1250.9"},
{"date":"2022-07-21","series":"久留米市","value":1133.4,"label":"久留米市, 1133.4"},
{"date":"2022-07-21","series":"全県","value":911.9,"label":"全県, 911.9"},
{"date":"2022-07-21","series":"筑後地域","value":889.3,"label":"筑後地域, 889.3"},
{"date":"2022-07-21","series":"福岡地域","value":783.7,"label":"福岡地域, 783.7"},
{"date":"2022-07-21","series":"北九州市","value":661.0,"label":"北九州市, 661.0"},
{"date":"2022-07-21","series":"筑豊地域","value":602.3,"label":"筑豊地域, 602.3"},
{"date":"2022-07-21","series":"北九州地域","value":467.8,"label":"北九州地域, 467.8"}
]
},
"layer":[
{
"data":{"name":"daily"},
"transform":[{"fold":["北九州市","福岡市","久留米市","北九州地域","福岡地域","筑後地域","筑豊地域","全県"],"as":["series","value"]}],
"mark":{"type":"line","strokeWidth":5.5,"strokeJoin":"round","strokeCap":"round"},
"encoding":{
"x":{"field":"date","type":"temporal","scale":{"type":"utc","domain":[1640995200000,1658361600000]},
"axis":{"values":[1640995200000,1641600000000,1642204800000,1642809600000,1643414400000,1644019200000,1644624000000,1645228800000,1645833600000,1646438400000,1647043200000,1647648000000,1648252800000,1648857600000,1649462400000,1650067200000,1650672000000,1651276800000,1651881600000,1652486400000,1653091200000,1653696000000,1654300800000,1654905600000,1655510400000,1656115200000,1656720000000,1657324800000,1657929600000],
"labelExpr":"utcFormat(datum.value, '%-m/%-d')","labelAngle":-45,"labelAlign":"right","labelBaseline":"middle","labelPadding":14,"labelFontSize":25,"labelColor":"#262626","labelFont":"Noto Sans CJK JP","labelFlush":false,"labelOverlap":false,"labelBound":false,"ticks":false,"domain":false,"grid":false,"title":null}},
"y":{"field":"value","type":"quantitative","scale":{"domain":[0,1300],"nice":false},
"axis":{"values":[0,100,200,300,400,500,600,700,800,900,1000,1100,1200,1300],"labelExpr":"datum.value + '人'","labelFontSize":26,"labelColor":"#404040","labelFont":"Noto Sans CJK JP","labelPadding":22,"ticks":false,"domain":false,"grid":true,"gridColor":"#D9D9D9","gridWidth":2,"title":null}},
"color":{"field":"series","type":"nominal","sort":["北九州市","福岡市","久留米市","北九州地域","福岡地域","筑後地域","筑豊地域","全県"],
"scale":{"range":["#2E75B6","#843C0C","#375623","#9DC3E6","#ED7D31","#70AD47","#FFC000","#000000"]},
"legend":{"orient":"none","legendX":1290,"legendY":2,"title":null,"symbolType":"stroke","symbolSize":3364,"symbolStrokeWidth":7,"labelFontSize":25,"labelColor":"#595959","labelFont":"Noto Sans CJK JP","labelOffset":1,"rowPadding":5.5,"padding":3,"fillColor":"#FFFFFF"}}
}
},
{
"data":{"name":"daily"},
"mark":{"type":"line","color":"#000000","strokeWidth":8.5,"strokeJoin":"round","strokeCap":"round"},
"encoding":{
"x":{"field":"date","type":"temporal","scale":{"type":"utc","domain":[1640995200000,1658361600000]},"axis":{"title":null}},
"y":{"field":"全県","type":"quantitative","scale":{"domain":[0,1300],"nice":false},"axis":{"title":null}}
}
},
{
"data":{"name":"daily"},
"mark":{"type":"line","color":"#FFFFFF","strokeWidth":3.5,"strokeJoin":"round","strokeCap":"round"},
"encoding":{
"x":{"field":"date","type":"temporal","scale":{"type":"utc","domain":[1640995200000,1658361600000]},"axis":{"title":null}},
"y":{"field":"全県","type":"quantitative","scale":{"domain":[0,1300],"nice":false},"axis":{"title":null}}
}
},
{
"data":{"name":"labels"},
"transform":[{"filter":"datum.series !== '全県'"}],
"mark":{"type":"text","align":"left","baseline":"middle","dx":26,"fontSize":30,"font":"DejaVu Sans, Noto Sans CJK JP"},
"encoding":{
"x":{"field":"date","type":"temporal","scale":{"type":"utc","domain":[1640995200000,1658361600000]},"axis":{"title":null}},
"y":{"field":"value","type":"quantitative","scale":{"domain":[0,1300],"nice":false},"axis":{"title":null}},
"text":{"field":"label"},
"fill":{"field":"series","type":"nominal","scale":{"domain":["北九州市","福岡市","久留米市","北九州地域","福岡地域","筑後地域","筑豊地域"],"range":["#2E75B6","#8B4513","#375623","#9DC3E6","#ED7D31","#92D050","#FFC000"]},"legend":null}
}
},
{
"data":{"name":"labels"},
"transform":[{"filter":"datum.series === '全県'"}],
"mark":{"type":"text","align":"left","baseline":"middle","dx":26,"dy":-31,"fontSize":30,"font":"DejaVu Sans, Noto Sans CJK JP","color":"#1A1A1A"},
"encoding":{
"x":{"field":"date","type":"temporal","scale":{"type":"utc","domain":[1640995200000,1658361600000]},"axis":{"title":null}},
"y":{"field":"value","type":"quantitative","scale":{"domain":[0,1300],"nice":false},"axis":{"title":null}},
"text":{"field":"label"}
}
},
{
"data":{"values":[{}]},
"mark":{"type":"rule","color":"#000000","strokeWidth":2},
"encoding":{
"x":{"datum":1658361600000,"type":"temporal","scale":{"type":"utc","domain":[1640995200000,1658361600000]},"axis":{"title":null}},
"y":{"datum":915,"type":"quantitative","scale":{"domain":[0,1300],"nice":false},"axis":{"title":null}},
"y2":{"datum":953}
}
},
{
"data":{"values":[{}]},
"mark":{"type":"rule","color":"#000000","strokeWidth":2},
"encoding":{
"x":{"datum":1658361600000,"type":"temporal","scale":{"type":"utc","domain":[1640995200000,1658361600000]},"axis":{"title":null}},
"x2":{"datum":1658534400000},
"y":{"datum":953,"type":"quantitative","scale":{"domain":[0,1300],"nice":false},"axis":{"title":null}}
}
},
{
"data":{"values":[{}]},
"mark":{"type":"rect","fill":"#FFFFFF","stroke":"#000000","strokeWidth":2},
"encoding":{
"x":{"datum":1654905600000,"type":"temporal","scale":{"type":"utc","domain":[1640995200000,1658361600000]},"axis":{"title":null}},
"x2":{"datum":1657756800000},
"y":{"datum":912,"type":"quantitative","scale":{"domain":[0,1300],"nice":false},"axis":{"title":null}},
"y2":{"datum":979}
}
},
{
"data":{"values":[{}]},
"mark":{"type":"text","text":"全県、911.9(7/21)","align":"left","baseline":"middle","fontSize":31,"font":"DejaVu Sans, Noto Sans CJK JP","color":"#000000"},
"encoding":{
"x":{"datum":1655078400000,"type":"temporal","scale":{"type":"utc","domain":[1640995200000,1658361600000]},"axis":{"title":null}},
"y":{"datum":945,"type":"quantitative","scale":{"domain":[0,1300],"nice":false},"axis":{"title":null}}
}
},
{
"data":{"values":[{}]},
"mark":{"type":"text","text":"5","align":"center","baseline":"middle","fontSize":38,"fontWeight":"bold","font":"Noto Sans CJK JP","color":"#000000"},
"encoding":{
"x":{"datum":1660780800000,"type":"temporal","scale":{"type":"utc","domain":[1640995200000,1658361600000]},"axis":{"title":null}},
"y":{"datum":-63,"type":"quantitative","scale":{"domain":[0,1300],"nice":false},"axis":{"title":null}}
}
}
]
}
